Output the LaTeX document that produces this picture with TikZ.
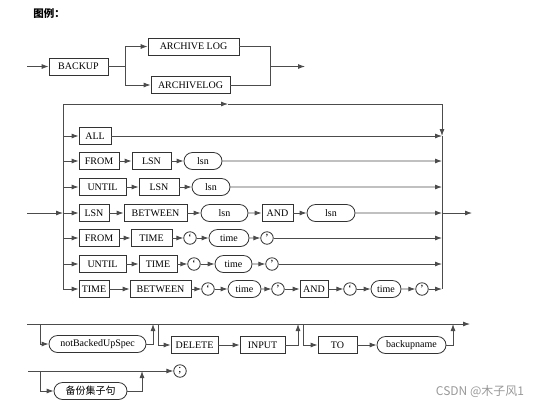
\documentclass[tikz,border=0pt]{standalone}
\usepackage{fontspec}
\setmainfont{Liberation Serif}
\newfontfamily\cjk{Noto Sans CJK SC}
\usetikzlibrary{arrows.meta,shapes.misc}

\begin{document}
\begin{tikzpicture}[x=1pt, y=-1pt,
  kw/.style={draw=black!80, line width=0.8pt, minimum width=#1, minimum height=17pt, inner sep=1pt, font=\fontsize{10}{12}\selectfont},
  kw/.default=20pt,
  trm/.style={kw=#1, rounded rectangle},
  qt/.style={draw=black!80, line width=0.8pt, circle, minimum size=12.5pt, inner sep=0pt, font=\fontsize{11}{12}\selectfont},
  ln/.style={draw=black!70, line width=0.8pt},
  arr/.style={ln, -{Latex[length=7pt,width=5pt]}}]
\useasboundingbox (0,0) rectangle (554,408);
\node[font=\cjk\bfseries\fontsize{10.5}{12}\selectfont] (ttl) at (49,14) {图例：};
% backup header
\node[kw=59pt] (bk) at (78.5,66.5) {BACKUP};
\node[kw=91pt] (al1) at (193.5,46.5) {ARCHIVE LOG};
\node[kw=79pt] (al2) at (190.5,85) {ARCHIVELOG};
\coordinate (in0) at (27,66.5);
\coordinate (sp1) at (125,66.5);
\coordinate (jn1) at (270,66.5);
\coordinate (out0) at (305,66.5);
\draw[arr] (in0) -- (bk);
\draw[ln] (bk) -- (sp1);
\draw[arr] (sp1) |- (al1);
\draw[arr] (sp1) |- (al2);
\draw[ln] (al1) -| (jn1);
\draw[ln] (al2) -| (jn1);
\draw[arr] (jn1) -- (out0);
% option rows
\node[kw=32pt] (all) at (95,136) {ALL};
\node[kw=40pt] (f2) at (99,161) {FROM};
\node[kw=39pt] (n2) at (151.5,161) {LSN};
\node[trm=40pt] (l2) at (203,161) {lsn};
\node[kw=47pt] (u3) at (102.5,187) {UNTIL};
\node[kw=40pt] (n3) at (159,187) {LSN};
\node[trm=40pt] (l3) at (211,187) {lsn};
\node[kw=30pt] (s4) at (94,213) {LSN};
\node[kw=63pt] (b4) at (155.5,213) {BETWEEN};
\node[trm=49pt] (l4) at (224.5,213) {lsn};
\node[kw=31pt] (a4) at (277.5,213) {AND};
\node[trm=50pt] (m4) at (331,213) {lsn};
\node[kw=40pt] (f5) at (99,238) {FROM};
\node[kw=41pt] (t5) at (151.5,238) {TIME};
\node[qt] (q5) at (190,238) {‘};
\node[trm=42pt] (i5) at (229,238) {time};
\node[qt] (p5) at (267,238) {’};
\node[kw=47pt] (u6) at (102.5,264) {UNTIL};
\node[kw=38pt] (t6) at (158,264) {TIME};
\node[qt] (q6) at (194,264) {‘};
\node[trm=39pt] (i6) at (233.5,264) {time};
\node[qt] (p6) at (272,264) {’};
\node[kw=30pt] (t7) at (94,289) {TIME};
\node[kw=61pt] (b7) at (160.5,289) {BETWEEN};
\node[qt] (q7) at (208,289) {‘};
\node[trm=35pt] (i7) at (244.5,289) {time};
\node[qt] (p7) at (278,289) {’};
\node[kw=28pt] (a7) at (314,289) {AND};
\node[qt] (r7) at (350,289) {‘};
\node[trm=32pt] (j7) at (386,289) {time};
\node[qt] (s7) at (422,289) {’};
\coordinate (lv) at (63,104);
\coordinate (lm) at (228,104);
\coordinate (rv) at (442,104);
\coordinate (in1) at (27,213);
\coordinate (out1) at (472,213);
\draw[arr] (lv) -- (lm);
\draw[ln] (lm) -- (rv);
\draw[arr] (rv) -- (rv |- all);
\draw[ln] (rv |- all) -- (rv |- s7);
\draw[ln] (lv) -- (lv |- t7);
\draw[arr] (lv |- t7) -- (t7);
\draw[arr] (in1) -- (lv |- in1);
\draw[arr] (rv |- m4) -- (out1);
\foreach \a in {all,f2,u3,s4,f5,u6} \draw[arr] (lv |- \a) -- (\a);
\foreach \a/\b in {f2/n2,n2/l2,u3/n3,n3/l3,s4/b4,b4/l4,l4/a4,a4/m4,f5/t5,t5/q5,q5/i5,i5/p5,u6/t6,t6/q6,q6/i6,i6/p6,t7/b7,b7/q7,q7/i7,i7/p7,p7/a7,a7/r7,r7/j7,j7/s7} \draw[arr] (\a) -- (\b);
\foreach \a in {all,l2,l3,m4,p5,p6,s7} \draw[arr] (\a) -- (rv |- \a);
% tail clauses
\node[trm=99pt] (nb) at (97.5,344) {notBackedUpSpec};
\node[kw=47pt] (dl) at (194.5,345) {DELETE};
\node[kw=45pt] (ip) at (262.5,345) {INPUT};
\node[kw=39pt] (to) at (337.5,345) {TO};
\node[trm=71pt] (bn) at (411.5,345) {backupname};
\coordinate (bs) at (27,324);
\coordinate (be) at (470,324);
\coordinate (d1) at (40,324);
\coordinate (u1) at (153,324);
\coordinate (d2) at (158,324);
\coordinate (u2) at (298,324);
\coordinate (d3) at (303,324);
\coordinate (u3c) at (453,324);
\draw[arr] (bs) -- (be);
\draw[arr] (d1) |- (nb);
\draw[arr] (nb) -| (u1);
\draw[arr] (d2) |- (dl);
\draw[arr] (dl) -- (ip);
\draw[arr] (ip) -| (u2);
\draw[arr] (d3) |- (to);
\draw[arr] (to) -- (bn);
\draw[arr] (bn) -| (u3c);
\node[qt] (sc) at (180,371) {;};
\node[trm=75pt] (cl) at (90.5,391) {\cjk 备份集子句};
\coordinate (cs) at (28,371);
\coordinate (d4) at (40,371);
\coordinate (u4) at (142,371);
\draw[arr] (cs) -- (sc);
\draw[arr] (d4) |- (cl);
\draw[arr] (cl) -| (u4);
\node[text=black!40, font=\cjk\fontsize{12}{14}\selectfont] (wm) at (480,391) {CSDN @木子风1};
\end{tikzpicture}
\end{document}
